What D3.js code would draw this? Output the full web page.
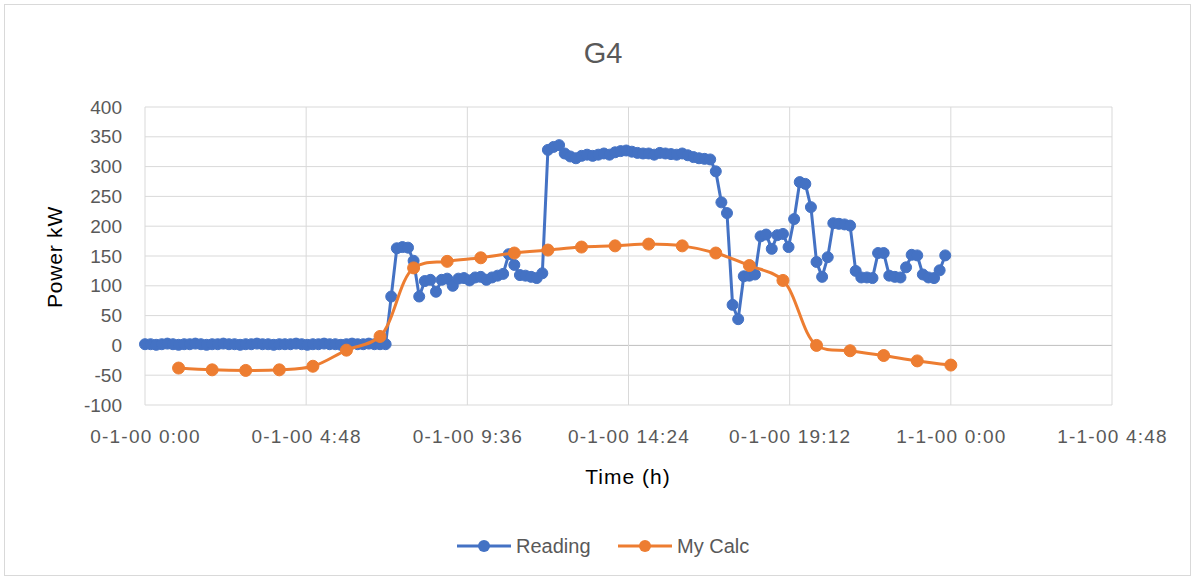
<!DOCTYPE html>
<html><head><meta charset="utf-8">
<script src="https://cdn.jsdelivr.net/npm/d3@7"></script>
<style>body{margin:0;background:#fff}text{font-family:"Liberation Sans",Arial,sans-serif;fill:#595959}</style>
</head><body><svg id="c" width="1195" height="580"></svg>
<script>
// Reading: 10-minute samples from 0:00 to 23:50 (hours)
const readingValues = [
 2,2,1,2,3,2,1,2,2,3,2,1,2,2,3,2,2,1,2,2,3,2,2,1,2,2,2,3,2,1,2,2,3,2,2,1,2,3,2,2,3,2,2,2,
 82,163,165,164,142,82,108,110,90,110,112,100,112,113,109,114,115,110,114,117,120,
 153,135,118,117,115,113,121,
 328,333,336,322,317,314,318,320,318,320,322,320,324,326,327,325,323,322,322,320,323,322,321,320,322,319,316,314,313,312,
 292,240,222,68,44,116,117,119,183,186,162,185,187,165,212,274,271,232,140,115,148,
 205,204,203,201,125,114,114,113,155,155,117,115,114,131,152,151,119,114,113,126,151
];
const readingHours = readingValues.map((d,i)=>i/6);
// My Calc: hourly values from 1:00 to 24:00
const calcHours = [1,2,3,4,5,6,7,8,9,10,11,12,13,14,15,16,17,18,19,20,21,22,23,24];
const calcValues = [-38,-41,-42,-41,-35,-8,15,130,141,147,155,160,165,167,170,167,155,134,109,0,-9,-17,-26,-33];
const xTicks = [0,4.8,9.6,14.4,19.2,24,28.8];
const xTickLabels = ["0-1-00 0:00","0-1-00 4:48","0-1-00 9:36","0-1-00 14:24","0-1-00 19:12","1-1-00 0:00","1-1-00 4:48"];
const yTicks = [-100,-50,0,50,100,150,200,250,300,350,400];

const svg = d3.select("#c");
svg.append("rect").attr("x",4.5).attr("y",4.5).attr("width",1186).attr("height",571)
  .attr("fill","#fff").attr("stroke","#d9d9d9");

const x = d3.scaleLinear().domain([0,28.8]).range([145,1112]);
const y = d3.scaleLinear().domain([-100,400]).range([405,107]);

// grid
svg.append("g").selectAll("line").data(yTicks).join("line")
  .attr("x1",145).attr("x2",1112).attr("y1",d=>y(d)).attr("y2",d=>y(d))
  .attr("stroke",d=>d===0?"#bfbfbf":"#d9d9d9").attr("stroke-width",1);
svg.append("g").selectAll("line").data(xTicks).join("line")
  .attr("x1",d=>x(d)).attr("x2",d=>x(d)).attr("y1",107).attr("y2",405)
  .attr("stroke","#d9d9d9").attr("stroke-width",1);

// axes labels
const yAxis = svg.append("g").attr("transform","translate(145,0)")
  .call(d3.axisLeft(y).tickValues(yTicks).tickFormat(d=>String(d)).tickSize(0).tickPadding(23));
yAxis.select(".domain").remove();
yAxis.selectAll("text").attr("font-size",19).attr("fill","#595959").style("font-family","Liberation Sans, Arial");

const xAxis = svg.append("g").attr("transform","translate(0,405)")
  .call(d3.axisBottom(x).tickValues(xTicks).tickFormat((d,i)=>xTickLabels[i]).tickSize(0).tickPadding(25));
xAxis.select(".domain").remove();
xAxis.selectAll("text").attr("font-size",19).attr("fill","#595959").attr("letter-spacing",1.2).style("font-family","Liberation Sans, Arial");

svg.append("text").attr("x",603).attr("y",63).attr("text-anchor","middle").attr("font-size",29).text("G4");
svg.append("text").attr("x",628).attr("y",484).attr("text-anchor","middle").attr("font-size",21).attr("letter-spacing",1).style("fill","#000").text("Time (h)");
svg.append("text").attr("transform","translate(62,257) rotate(-90)").attr("text-anchor","middle").attr("font-size",21).attr("letter-spacing",0.8).style("fill","#000").text("Power kW");

const blue = "#4472C4", orange = "#ED7D31";
const reading = readingValues.map((v,i)=>[readingHours[i],v]);
const calc = calcValues.map((v,i)=>[calcHours[i],v]);

const line = d3.line().x(d=>x(d[0])).y(d=>y(d[1]));
svg.append("path").datum(reading).attr("d",line).attr("fill","none").attr("stroke",blue).attr("stroke-width",3).attr("stroke-linejoin","round");
svg.append("g").selectAll("circle").data(reading).join("circle")
  .attr("cx",d=>x(d[0])).attr("cy",d=>y(d[1])).attr("r",5.5).attr("fill",blue).attr("stroke",blue).attr("stroke-width",1);

const sline = d3.line().x(d=>x(d[0])).y(d=>y(d[1])).curve(d3.curveCatmullRom.alpha(0.5));
svg.append("path").datum(calc).attr("d",sline).attr("fill","none").attr("stroke",orange).attr("stroke-width",3);
svg.append("g").selectAll("circle").data(calc).join("circle")
  .attr("cx",d=>x(d[0])).attr("cy",d=>y(d[1])).attr("r",6).attr("fill",orange).attr("stroke",orange).attr("stroke-width",1);

// legend
const legend = [{name:"Reading",c:blue,x0:457},{name:"My Calc",c:orange,x0:618}];
const lg = svg.append("g");
legend.forEach(l=>{
  lg.append("line").attr("x1",l.x0).attr("x2",l.x0+54).attr("y1",546).attr("y2",546).attr("stroke",l.c).attr("stroke-width",3);
  lg.append("circle").attr("cx",l.x0+27).attr("cy",546).attr("r",6).attr("fill",l.c);
  lg.append("text").attr("x",l.x0+59).attr("y",553).attr("font-size",20).text(l.name);
});
</script></body></html>
